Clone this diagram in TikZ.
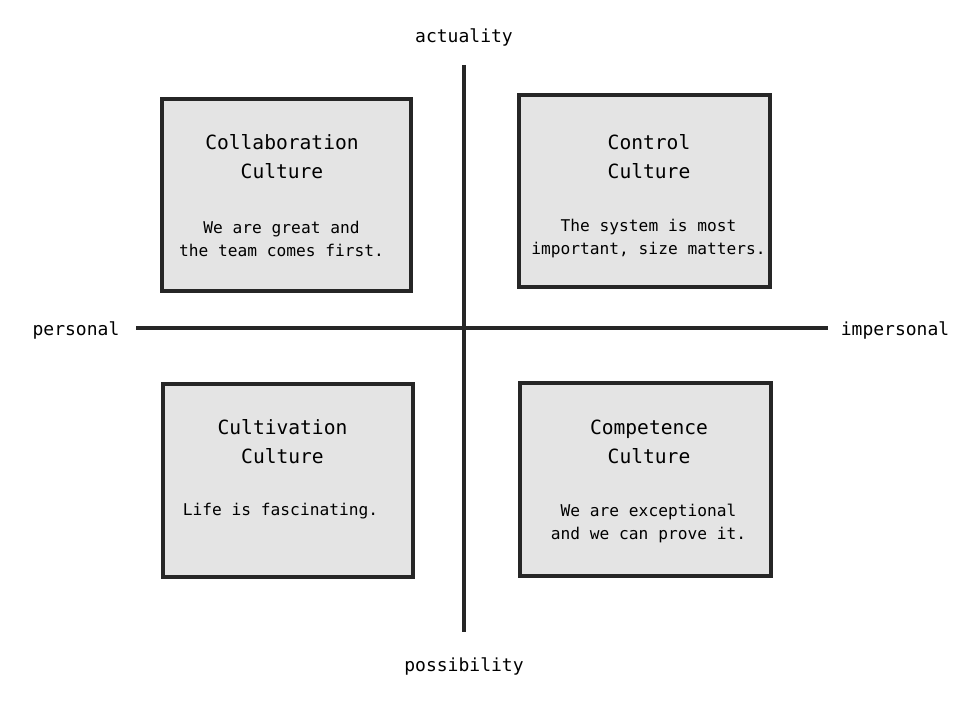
\documentclass[tikz,border=0pt]{standalone}
\usepackage{fontspec}
\setmonofont{DejaVu Sans Mono}
\usepackage{xcolor}
\usepackage{tikz}
\usetikzlibrary{positioning}

\definecolor{inkdark}{HTML}{262626}
\definecolor{boxgray}{HTML}{E4E4E4}

\tikzset{
  culturebox/.style={draw=inkdark, fill=boxgray, line width=3.15pt, rectangle, inner sep=0pt},
  axisline/.style={draw=inkdark, line width=3.05pt},
  titletext/.style={font=\ttfamily\fontsize{19.6}{29}\selectfont, text=black, align=center, inner sep=0pt},
  bodytext/.style={font=\ttfamily\fontsize{16.2}{23}\selectfont, text=black, align=center, inner sep=0pt},
  axislabel/.style={font=\ttfamily\fontsize{18}{20}\selectfont, text=black, inner sep=0pt}
}

\begin{document}
\begin{tikzpicture}[x=1pt, y=-1pt]
\useasboundingbox (0,0) rectangle (971,706);

% axis ends
\coordinate (top) at (464,65);
\coordinate (bottom) at (464,632);
\coordinate (left) at (136,328);
\coordinate (right) at (828,328);

% axes
\draw[axisline] (top) -- (bottom);
\draw[axisline] (left) -- (right);

% axis labels
\node[axislabel] (actuality) at (464,37) {actuality};
\node[axislabel] (possibility) at (464,666) {possibility};
\node[axislabel] (personal) at (76,330) {personal};
\node[axislabel] (impersonal) at (895,330) {impersonal};

% boxes (top)
\node[culturebox, minimum width=249pt, minimum height=192pt] (collab) at (286.5,195) {};
\node[culturebox, minimum width=251pt, minimum height=192pt] (control) at (644.5,191) {};

% boxes (bottom)
\node[culturebox, minimum width=250pt, minimum height=193pt] (cultiv) at (288,480.5) {};
\node[culturebox, minimum width=251pt, minimum height=193pt] (compet) at (645.5,479.5) {};

% texts (top left)
\node[titletext] (collabT) at (282,157) {Collaboration\\Culture};
\node[bodytext] (collabB) at (281.5,238.5) {We are great and\\the team comes first.};

% texts (top right)
\node[titletext] (controlT) at (649,157) {Control\\Culture};
\node[bodytext] (controlB) at (648.5,238.5) {The system is most\\important, size matters.};

% texts (bottom left)
\node[titletext] (cultivT) at (282.5,442) {Cultivation\\Culture};
\node[bodytext] (cultivB) at (280.5,511.5) {Life is fascinating.};

% texts (bottom right)
\node[titletext] (competT) at (649,442) {Competence\\Culture};
\node[bodytext] (competB) at (648.5,523) {We are exceptional\\and we can prove it.};
\end{tikzpicture}
\end{document}
